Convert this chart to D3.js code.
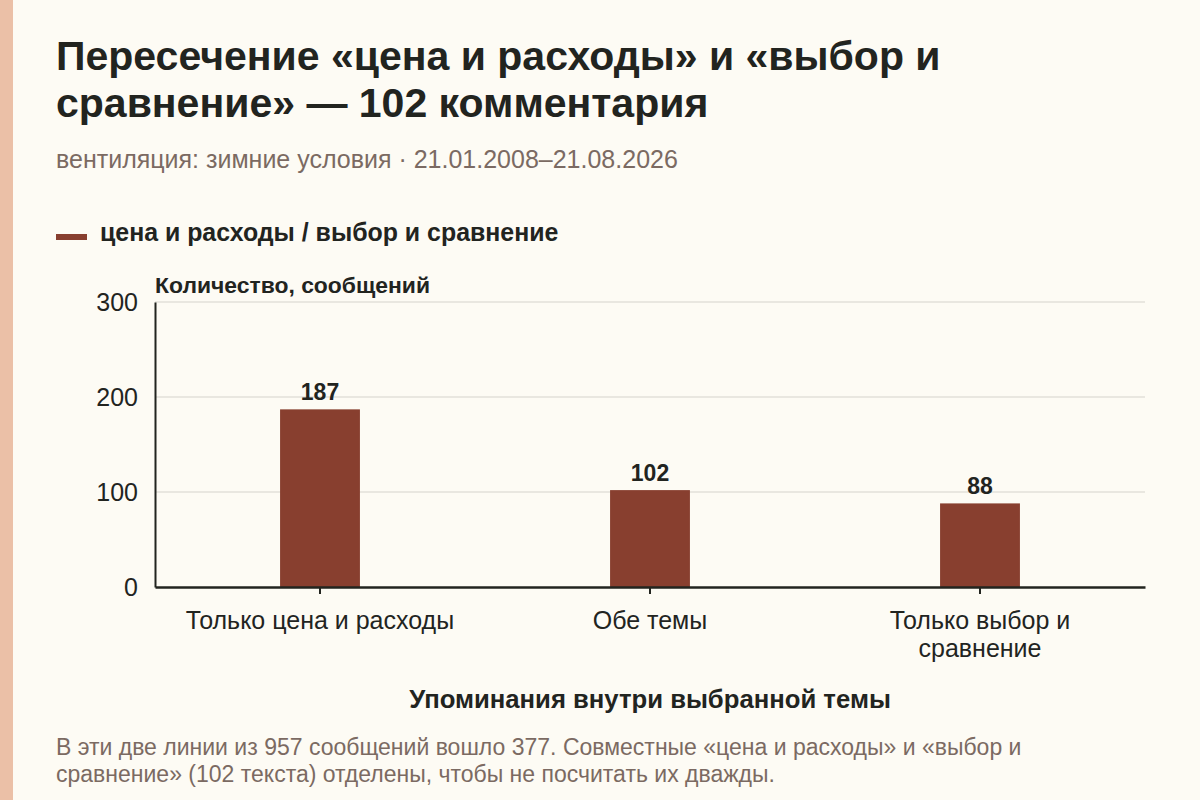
<!DOCTYPE html>
<html>
<head>
<meta charset="utf-8">
<script src="https://cdn.jsdelivr.net/npm/d3@7/dist/d3.min.js"></script>
<style>
  html, body { margin: 0; padding: 0; background: #fdfbf4; }
  svg { display: block; font-family: "Liberation Sans", Arial, sans-serif; }
</style>
</head>
<body>
<svg id="chart" width="1200" height="800"></svg>
<script>
const categories = ["Только цена и расходы", "Обе темы", "Только выбор и сравнение"];
const categoryLines = [["Только цена и расходы"], ["Обе темы"], ["Только выбор и", "сравнение"]];
const values = [187, 102, 88];
const yTicks = [0, 100, 200, 300];
const seriesName = "цена и расходы / выбор и сравнение";
const titleLines = ["Пересечение «цена и расходы» и «выбор и", "сравнение» — 102 комментария"];
const subtitle = "вентиляция: зимние условия · 21.01.2008–21.08.2026";
const yLabel = "Количество, сообщений";
const xLabel = "Упоминания внутри выбранной темы";
const noteLines = ["В эти две линии из 957 сообщений вошло 377. Совместные «цена и расходы» и «выбор и", "сравнение» (102 текста) отделены, чтобы не посчитать их дважды."];

const barColor = "#883f2f";
const ink = "#22241f";
const muted = "#7b6a62";
const svg = d3.select("#chart");

svg.append("rect").attr("x", 0).attr("y", 0).attr("width", 1200).attr("height", 800).attr("fill", "#fdfbf4");
svg.append("rect").attr("x", 0).attr("y", 0).attr("width", 13).attr("height", 800).attr("fill", "#ebc0a7");

// Title
svg.append("text").attr("font-size", 41).attr("font-weight", "bold").attr("fill", ink)
  .selectAll("tspan").data(titleLines).join("tspan")
  .attr("x", 56).attr("y", (d, i) => 70 + i * 47).text(d => d);

svg.append("text").attr("x", 56).attr("y", 168).attr("font-size", 25).attr("fill", muted).text(subtitle);

// Legend
svg.append("rect").attr("x", 56).attr("y", 234).attr("width", 31).attr("height", 6).attr("fill", barColor);
svg.append("text").attr("x", 100).attr("y", 241).attr("font-size", 24.9).attr("font-weight", "bold").attr("fill", ink).text(seriesName);

// Plot
const margin = { left: 155, right: 1145, top: 302, bottom: 587 };
const x = d3.scaleBand().domain(categories).range([margin.left, margin.right]).paddingInner(0.758).paddingOuter(0.379);
const y = d3.scaleLinear().domain([0, 300]).range([margin.bottom, margin.top]);

// grid
svg.append("g").selectAll("line").data(yTicks.filter(t => t > 0)).join("line")
  .attr("x1", margin.left).attr("x2", margin.right)
  .attr("y1", d => y(d)).attr("y2", d => y(d))
  .attr("stroke", "#d6d3cc").attr("stroke-width", 1.2);

// y axis
const yAxis = svg.append("g").attr("transform", `translate(${margin.left},0)`)
  .call(d3.axisLeft(y).tickValues(yTicks).tickSize(0).tickPadding(17));
yAxis.select(".domain").attr("stroke", ink).attr("stroke-width", 2);
yAxis.selectAll("text").attr("font-size", 25).attr("fill", ink).attr("font-family", "Liberation Sans, Arial, sans-serif");

// bars
svg.append("g").selectAll("rect").data(values).join("rect")
  .attr("x", (d, i) => x(categories[i]))
  .attr("width", x.bandwidth())
  .attr("y", d => y(d))
  .attr("height", d => y(0) - y(d))
  .attr("fill", barColor);

// value labels
svg.append("g").selectAll("text").data(values).join("text")
  .attr("x", (d, i) => x(categories[i]) + x.bandwidth() / 2)
  .attr("y", d => y(d) - 9)
  .attr("text-anchor", "middle").attr("font-size", 23).attr("font-weight", "bold").attr("fill", ink)
  .text(d => d);

// x axis
const xAxis = svg.append("g").attr("transform", `translate(0,${margin.bottom})`)
  .call(d3.axisBottom(x).tickSize(7).tickSizeOuter(0).tickFormat(""));
xAxis.select(".domain").attr("stroke", ink).attr("stroke-width", 2.5);
xAxis.selectAll(".tick line").attr("stroke", ink).attr("stroke-width", 2);

const xl = svg.append("g").selectAll("text").data(categories).join("text")
  .attr("x", d => x(d) + x.bandwidth() / 2)
  .attr("y", 629)
  .attr("text-anchor", "middle").attr("font-size", 25).attr("fill", ink);
xl.selectAll("tspan").data((d, i) => categoryLines[i]).join("tspan")
  .attr("x", function () { return this.parentNode.getAttribute("x"); })
  .attr("dy", (d, i) => i === 0 ? 0 : 28)
  .text(d => d);

// axis titles
svg.append("text").attr("x", 155).attr("y", 293).attr("font-size", 22.9).attr("font-weight", "bold").attr("fill", ink).text(yLabel);
svg.append("text").attr("x", (margin.left + margin.right) / 2).attr("y", 708).attr("text-anchor", "middle")
  .attr("font-size", 25.7).attr("font-weight", "bold").attr("fill", ink).text(xLabel);

// note
svg.append("text").attr("font-size", 23).attr("fill", muted)
  .selectAll("tspan").data(noteLines).join("tspan")
  .attr("x", 56).attr("y", (d, i) => 755 + i * 27).text(d => d);
</script>
</body>
</html>
